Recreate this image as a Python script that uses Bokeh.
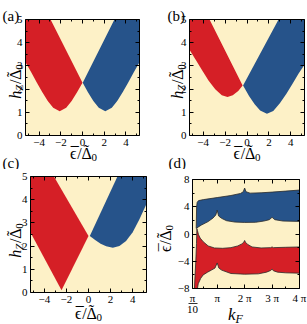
import numpy as np
from bokeh.plotting import figure
from bokeh.models import FixedTicker, Label, LinearAxis, Range1d
from bokeh.layouts import gridplot
from bokeh.embed import file_html
from bokeh.resources import INLINE

RED = "#D51F26"
BLUE = "#26538A"
CREAM = "#FDF1C7"
SERIF = "'Liberation Serif', serif"

# ---------------- data ----------------
# panel (a): phase boundaries (epsilon/Delta0, hZ/Delta0)
a_red_x = [-5.25, -2.94, 0.0, -0.5, -1.0, -1.5, -2.1, -2.7, -3.2, -3.7, -4.2, -4.7, -5.25]
a_red_y = [5.0, 5.0, 2.27, 1.86, 1.49, 1.20, 1.05, 1.20, 1.49, 1.86, 2.27, 2.70, 3.16]
a_blue_x = [5.25, 2.94, 0.02, 0.5, 1.0, 1.5, 2.1, 2.7, 3.2, 3.7, 4.2, 4.7, 5.25]
a_blue_y = [5.0, 5.0, 2.27, 1.86, 1.49, 1.20, 1.05, 1.20, 1.49, 1.86, 2.27, 2.70, 3.16]

# panel (b)
b_red_x = [-5.25, -3.42, -0.4, -0.8, -1.3, -1.78, -2.3, -2.9, -3.5, -4.1, -4.7, -5.25]
b_red_y = [5.0, 5.0, 2.16, 1.92, 1.73, 1.66, 1.74, 1.99, 2.36, 2.81, 3.28, 3.70]
b_blue_x = [5.25, 2.88, -0.36, 0.2, 0.7, 1.2, 1.82, 2.4, 3.0, 3.6, 4.2, 4.7, 5.25]
b_blue_y = [5.0, 5.0, 2.16, 1.69, 1.35, 1.08, 0.94, 1.06, 1.39, 1.80, 2.26, 2.66, 3.05]

# panel (c)
c_red_x = [-5.25, -3.13, 0.0, -2.44, -5.25]
c_red_y = [5.0, 5.0, 2.44, 0.1, 2.59]
c_blue_x = [5.25, 2.62, 0.12, 0.6, 1.1, 1.6, 2.2, 2.8, 3.4, 4.0, 4.6, 5.25]
c_blue_y = [5.0, 5.0, 2.44, 2.26, 2.10, 1.99, 1.93, 2.00, 2.22, 2.60, 3.15, 3.81]

# panel (d): kF in units of pi, epsilon/Delta0
d_blue_top_x = [0.25, 0.27, 0.32, 0.5, 1.0, 1.5, 1.85, 1.95, 2.0, 2.05, 2.2, 2.6, 3.0, 3.5, 4.0]
d_blue_top_y = [4.0, 4.65, 4.9, 5.05, 5.35, 5.65, 5.95, 6.2, 6.75, 6.2, 6.0, 6.05, 6.15, 6.3, 6.45]
d_blue_bot_x = [0.235, 0.3, 0.43, 0.67, 0.85, 0.95, 1.0, 1.05, 1.16, 1.34, 1.65, 2.0, 2.4, 2.7, 2.9, 3.0, 3.1, 3.4, 4.0]
d_blue_bot_y = [0.83, 1.0, 1.33, 1.82, 2.35, 2.8, 3.5, 2.65, 2.3, 1.95, 1.75, 1.7, 1.72, 1.9, 2.1, 2.45, 2.1, 1.9, 1.85]

d_red_left_x = [0.17, 0.19, 0.22, 0.246, 0.26]
d_red_left_y = [-8.0, -6.3, -4.0, -1.4, 0.8]
d_red_top_x = [0.28, 0.32, 0.38, 0.49, 0.67, 0.9, 1.2, 1.5, 1.75, 1.9, 1.97, 2.0, 2.03, 2.1, 2.27, 2.6, 2.95, 3.0, 3.05, 3.5, 4.0]
d_red_top_y = [0.5, -0.1, -0.6, -1.13, -1.75, -2.05, -2.1, -2.0, -1.75, -1.45, -1.2, -0.95, -1.2, -1.5, -1.9, -2.05, -2.0, -1.9, -2.0, -1.95, -1.9]
d_red_bot_x = [0.28, 0.31, 0.4, 0.49, 0.65, 0.79, 0.92, 1.0, 1.06, 1.16, 1.5, 2.0, 2.5, 2.8, 2.95, 3.0, 3.05, 3.2, 3.5, 4.0]
d_red_bot_y = [-8.0, -7.3, -6.5, -6.0, -5.6, -5.3, -5.0, -4.25, -5.0, -5.3, -5.8, -5.9, -5.85, -5.6, -5.35, -5.15, -5.4, -5.6, -5.7, -5.75]

# ticks
eps_ticks = [-4, -2, 0, 2, 4]
eps_labels = ["\u22124", "\u22122", "0", "2", "4"]
h_ticks = [0, 1, 2, 3, 4, 5]
h_labels = ["0", "1", "2", "3", "4", "5"]
k_ticks = [0.1, 1, 2, 3, 4]
k_labels = ["\u03c0\n10", "\u03c0", "2 \u03c0", "3 \u03c0", "4 \u03c0"]
e_ticks = [-8, -4, 0, 4, 8]
e_labels = ["\u22128", "\u22124", "0", "4", "8"]

XR = (-5.25, 5.25)
YR = (0, 5)
KR = (0.1, 4.0)
ER = (-8, 8)


def style_axis(ax, ticks, labels, minor, show_labels=True):
    ax.ticker = FixedTicker(ticks=ticks, minor_ticks=minor)
    ax.major_tick_in = 4
    ax.major_tick_out = 0
    ax.minor_tick_in = 2
    ax.minor_tick_out = 0
    ax.major_tick_line_color = "black"
    ax.minor_tick_line_color = "black"
    ax.axis_line_color = None
    if show_labels:
        ax.major_label_overrides = dict(zip(ticks, labels))
        ax.major_label_text_font = SERIF
        ax.major_label_text_font_size = "11px"
        ax.major_label_text_color = "black"
        ax.major_label_text_line_height = 0.95
        ax.major_label_standoff = 3
    else:
        ax.major_label_text_color = None


class Panel:
    """A figure whose frame fills the canvas; the plot box sits at pixel box (l, t, r, b)."""

    def __init__(self, w, h, box, xr, yr):
        l, t, r, b = box
        self.kx = (xr[1] - xr[0]) / (r - l)
        self.ky = (yr[1] - yr[0]) / (b - t)
        self.x0 = xr[0] - l * self.kx
        x1 = xr[1] + (w - r) * self.kx
        y0 = yr[0] - (h - b) * self.ky
        self.y1 = yr[1] + t * self.ky
        p = figure(width=w, height=h, x_range=Range1d(self.x0, x1), y_range=Range1d(y0, self.y1),
                   output_backend="svg", toolbar_location=None, x_axis_location=None,
                   y_axis_location=None, min_border=0)
        p.outline_line_color = None
        p.background_fill_color = "white"
        p.border_fill_color = "white"
        p.grid.visible = False
        p.quad(left=[xr[0]], right=[xr[1]], bottom=[yr[0]], top=[yr[1]],
               fill_color=CREAM, line_color=None)
        self.p, self.xr, self.yr = p, xr, yr

    def fx(self, px):
        return self.x0 + px * self.kx

    def fy(self, py):
        return self.y1 - py * self.ky

    def finish(self, xt, xl, xm, yt, yl, ym):
        p = self.p
        p.quad(left=[self.xr[0]], right=[self.xr[1]], bottom=[self.yr[0]], top=[self.yr[1]],
               fill_color=None, line_color="black", line_width=1)
        for loc, place, t, lab, m, show in (
                (self.yr[0], "below", xt, xl, xm, True),
                (self.xr[0], "left", yt, yl, ym, True),
                (self.yr[1], "above", xt, xl, xm, False),
                (self.xr[1], "right", yt, yl, ym, False)):
            ax = LinearAxis(fixed_location=loc)
            style_axis(ax, t, lab, m, show)
            p.add_layout(ax, place)

    def text(self, px, py, text, size, style="normal", angle=0.0, baseline="alphabetic"):
        self.p.add_layout(Label(x=self.fx(px), y=self.fy(py), text=text, text_font=SERIF,
                                text_font_size=f"{size}px", text_font_style=style, angle=angle,
                                text_align="left", text_baseline=baseline, text_color="black"))

    def compose(self, bx, by, items, vertical):
        # (bx, by): start of the label on its baseline, in figure pixels
        for text, size, style, along, perp in items:
            if vertical:
                self.text(bx + perp, by - along, text, size, style, angle=np.pi / 2)
            else:
                self.text(bx + along, by + perp, text, size, style)


# label pieces: (text, size, style, advance along baseline, baseline shift)
h_items = [("h", 16, "italic", 0, 0), ("Z", 11, "italic", 8.0, 3.5), ("/", 16, "normal", 14.6, 0),
           ("\u0394", 16, "normal", 19.0, 0), ("\u02dc", 16, "normal", 21.3, -3.0),
           ("0", 11, "normal", 28.8, 3.5)]
H_LEN = 34.3
eps_items = [("\u03f5", 16, "normal", 0, 0), ("\u00af", 16, "normal", 0.9, 0.0),
             ("/", 16, "normal", 7.2, 0), ("\u0394", 16, "normal", 11.6, 0),
             ("\u02dc", 16, "normal", 13.9, -3.0), ("0", 11, "normal", 21.6, 3.5)]
EPS_LEN = 27.1
k_items = [("k", 17, "italic", 0, 0), ("F", 12, "italic", 7.5, 4.0)]
K_LEN = 14.8

eps_minor = [-5, -3, -1, 1, 3, 5]
h_minor = [0.5, 1.5, 2.5, 3.5, 4.5]


def eps_h_panel(w, h, box, rx, ry, bx, by, ylab, xlab):
    P = Panel(w, h, box, XR, YR)
    P.p.patch(rx, ry, fill_color=RED, line_color=None)
    P.p.patch(bx, by, fill_color=BLUE, line_color=None)
    P.finish(eps_ticks, eps_labels, eps_minor, h_ticks, h_labels, h_minor)
    P.compose(ylab[0], ylab[1] + H_LEN / 2, h_items, True)
    P.compose(xlab[0] - EPS_LEN / 2, xlab[1], eps_items, False)
    return P


# row 1 (height 169) also carries the (c)/(d) tags that sit just above row 2
A = eps_h_panel(150, 169, (25, 19, 139, 135), a_red_x, a_red_y, a_blue_x, a_blue_y,
                (15, 81), (83, 153))
A.text(2, 15, "(a)", 15)
A.text(2, 162, "(c)", 15)
B = eps_h_panel(157, 169, (39, 19, 154, 135), b_red_x, b_red_y, b_blue_x, b_blue_y,
                (27, 81), (96.5, 153))
B.text(17, 15, "(b)", 15)
B.text(18, 162, "(d)", 15)
C = eps_h_panel(150, 155, (30, 7, 146, 123), c_red_x, c_red_y, c_blue_x, c_blue_y,
                (15, 71), (88, 144))

# panel (d)
D = Panel(157, 155, (42, 10, 149, 119), KR, ER)
blue_x = d_blue_top_x + d_blue_bot_x[::-1]
blue_y = d_blue_top_y + d_blue_bot_y[::-1]
red_x = d_red_left_x + d_red_top_x + d_red_bot_x[::-1]
red_y = d_red_left_y + d_red_top_y + d_red_bot_y[::-1]
D.p.patch(red_x, red_y, fill_color=RED, line_color="#2a2a2a", line_width=0.8)
D.p.patch(blue_x, blue_y, fill_color=BLUE, line_color="#2a2a2a", line_width=0.8)
D.finish(k_ticks, k_labels, [0.5, 1.5, 2.5, 3.5], e_ticks, e_labels, [-6, -2, 2, 6])
# fraction bar of the pi/10 tick label
D.p.segment(x0=[D.fx(38)], y0=[D.fy(134)], x1=[D.fx(47)], y1=[D.fy(134)],
            line_color="black", line_width=0.8)
D.compose(15, 69 + EPS_LEN / 2, eps_items, True)
D.compose(85 - K_LEN / 2, 145, k_items, False)

grid = gridplot([[A.p, B.p], [C.p, D.p]], toolbar_location=None)
open("out.html", "w").write(file_html(grid, INLINE))
